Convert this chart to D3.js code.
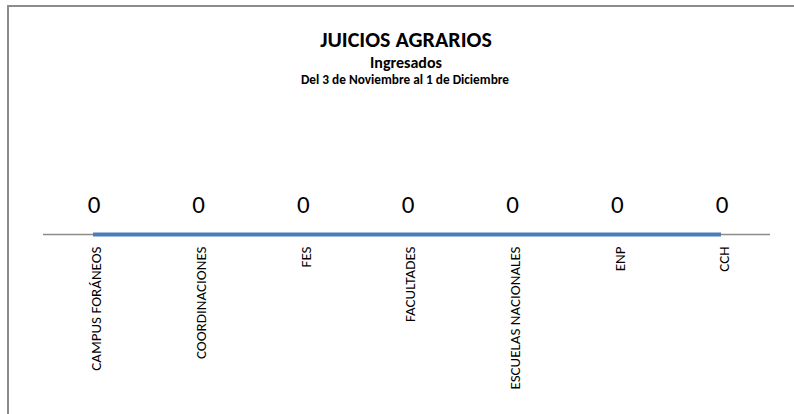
<!DOCTYPE html>
<html lang="es">
<head>
<meta charset="UTF-8">
<title>Juicios agrarios</title>
<script src="https://d3js.org/d3.v7.min.js"></script>
<style>
  html, body { margin: 0; height: 100%; overflow: hidden; background: #fff; }
  text { font-family: Carlito, "Open Sans", "Liberation Sans", sans-serif; fill: #000; }
</style>
</head>
<body>
<svg id="svg"></svg>
<script>
  const categories = ['CAMPUS FORÁNEOS', 'COORDINACIONES', 'FES', 'FACULTADES', 'ESCUELAS NACIONALES', 'ENP', 'CCH'];
  const values = [0, 0, 0, 0, 0, 0, 0];
  const titles = ['JUICIOS AGRARIOS', 'Ingresados', 'Del 3 de Noviembre al 1 de Diciembre'];

  const width = 794, height = 414;
  const svg = d3.select('#svg').attr('width', width).attr('height', height);

  // chart frame (right and bottom edges fall outside the view)
  svg.append('rect')
    .attr('x', 8).attr('y', 6)
    .attr('width', 800).attr('height', 420)
    .attr('fill', 'none').attr('stroke', '#8c8c8c').attr('stroke-width', 2);

  const x = d3.scalePoint().domain(categories).range([40.7, 773.3]).padding(0.5);
  const y = d3.scaleLinear().domain([0, 1]).range([234.5, 120]);

  // title block
  const t = svg.append('g').attr('text-anchor', 'middle').attr('font-weight', 'bold');
  t.append('text').attr('x', 406).attr('y', 47).attr('font-size', 22).text(titles[0]);
  t.append('text').attr('x', 406).attr('y', 68).attr('font-size', 16).text(titles[1]);
  t.append('text').attr('x', 405).attr('y', 84).attr('font-size', 13.3).text(titles[2]);

  // category axis
  svg.append('line')
    .attr('x1', 43).attr('x2', 770)
    .attr('y1', y(0)).attr('y2', y(0))
    .attr('stroke', '#8c8c8c').attr('stroke-width', 1.5);

  // series line
  const line = d3.line()
    .x((d, i) => x(categories[i]))
    .y(d => y(d));
  svg.append('path')
    .datum(values)
    .attr('d', line)
    .attr('fill', 'none')
    .attr('stroke', '#4a7ebb')
    .attr('stroke-width', 4)
    .attr('stroke-linecap', 'butt');

  // data labels
  svg.selectAll('.dl').data(values).join('text')
    .attr('class', 'dl')
    .attr('x', (d, i) => x(categories[i]) + 1)
    .attr('y', d => y(d) - 22)
    .attr('text-anchor', 'middle')
    .attr('font-size', 25)
    .text(d => d);

  // rotated category labels
  svg.selectAll('.cl').data(categories).join('text')
    .attr('class', 'cl')
    .attr('transform', d => `translate(${x(d) + 3}, ${y(0) + 12}) rotate(-90)`)
    .attr('dy', '0.35em')
    .attr('text-anchor', 'end')
    .attr('font-size', 15)
    .text(d => d);
</script>
</body>
</html>
